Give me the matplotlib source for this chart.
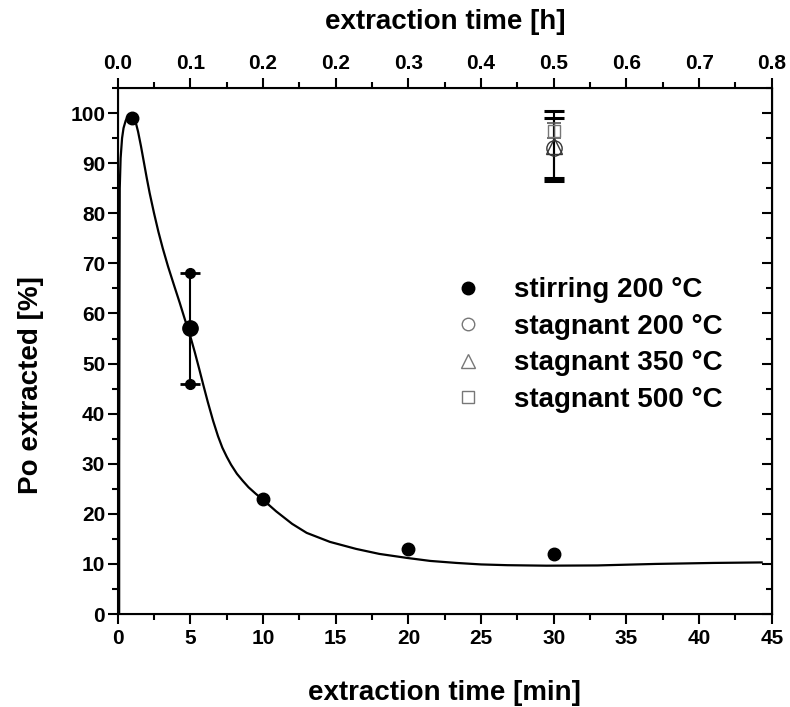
import matplotlib
matplotlib.use("Agg")
import matplotlib.pyplot as plt
from matplotlib.ticker import MultipleLocator

plt.rcParams['font.family'] = ['Liberation Sans', 'DejaVu Sans']
plt.rcParams['font.weight'] = 'bold'

# stirring 200 °C measurements
stir_t = [1, 10, 20, 30]
stir_po = [99, 23, 13, 12]
# the 5 min point carries an error bar
stir5_t = [5]
stir5_po = [57]
stir5_err = [11]

# stagnant measurements at 30 min
stag_t = [30]
stag200_po = [93]
stag200_err = [6]
stag350_po = [93.5]
stag350_err = [7]
stag500_po = [96.5]
stag500_err = [1.5]

# fitted curve
fit_t = [0.1, 0.1, 0.12, 0.14, 0.2, 0.3, 0.4, 0.55, 0.7, 0.85, 1.0, 1.2, 1.4,
         1.6, 1.8, 2.0, 2.2, 2.5, 2.8, 3.1, 3.46, 3.9, 4.27, 4.6, 4.96, 5.3,
         5.6, 5.9, 6.2, 6.56, 6.9, 7.2, 7.5, 7.8, 8.2, 8.6, 9.0, 9.5, 10.0,
         10.9, 12.0, 13.0, 14.6, 16.4, 18.0, 19.9, 21.5, 23.3, 25.0, 26.8,
         29.5, 33.0, 37.0, 41.0, 44.3]
fit_po = [0, 30, 62, 85, 91, 95, 97, 98.5, 99.3, 99.6, 99.6, 98.6, 96.3,
          93.4, 90.2, 87.0, 84.0, 80.0, 76.3, 73.0, 69.4, 65.4, 62.1, 59.0, 55.8, 52.3,
          49.0, 45.6, 42.3, 38.6, 35.5, 33.2, 31.4, 29.8, 28.0, 26.6, 25.3, 24.0, 22.8,
          20.5, 18.0, 16.2, 14.4, 13.0, 12.0, 11.2, 10.6, 10.2, 9.9, 9.75,
          9.65, 9.7, 10.0, 10.2, 10.3]

bottom_ticks = [0, 5, 10, 15, 20, 25, 30, 35, 40, 45]

fig = plt.figure(figsize=(7.9, 7.07), dpi=100)
ax = fig.add_axes([0.149, 0.1315, 0.828, 0.744])

ax.plot(fit_t, fit_po, color='black', lw=1.6, zorder=2)

ax.plot(stir_t, stir_po, 'o', color='black', ms=9, zorder=3)
ax.errorbar(stir5_t, stir5_po, yerr=stir5_err, fmt='o', color='black', ms=11,
            capsize=7, capthick=2, elinewidth=1.5, zorder=3)
err_ends = [p + s * e for p, e in zip(stir5_po, stir5_err) for s in (-1, 1)]
ax.plot(stir5_t * 2, err_ends, 'o', color='black', ms=7, zorder=3)

ax.errorbar(stag_t, stag350_po, yerr=stag350_err, fmt='^', mfc='none', mec='#333333',
            ms=11, color='black', capsize=7, capthick=2.2, elinewidth=1.5, zorder=3)
ax.errorbar(stag_t, stag200_po, yerr=stag200_err, fmt='o', mfc='none', mec='#333333',
            ms=11, color='black', capsize=7, capthick=2.2, elinewidth=1.5, zorder=3)
ax.errorbar(stag_t, stag500_po, yerr=stag500_err, fmt='s', mfc='none', mec='#777777',
            ms=8, color='#555555', capsize=5, capthick=1.2, elinewidth=1.0, zorder=3)

# legend handles
h1, = ax.plot([], [], 'o', color='black', ms=9)
h2, = ax.plot([], [], 'o', mfc='none', mec='#777777', ms=9)
h3, = ax.plot([], [], '^', mfc='none', mec='#777777', ms=10)
h4, = ax.plot([], [], 's', mfc='none', mec='#777777', ms=8)
ax.legend([h1, h2, h3, h4],
          ['stirring 200 °C', 'stagnant 200 °C', 'stagnant 350 °C', 'stagnant 500 °C'],
          loc='upper left', bbox_to_anchor=(0.514, 0.64), frameon=False,
          prop={'weight': 'bold', 'size': 20}, borderpad=0, borderaxespad=0,
          handletextpad=1.15, labelspacing=0.38, handlelength=1.0)

ax.set_xlim(0, 45)
ax.set_xticks(bottom_ticks)
ax.xaxis.set_minor_locator(MultipleLocator(2.5))
ax.set_yticks(range(0, 101, 10))
ax.yaxis.set_minor_locator(MultipleLocator(5))
ax.set_ylim(0, 105)

for s in ax.spines.values():
    s.set_linewidth(1.5)

ax.tick_params(which='both', direction='out', labelsize=15, width=1.5)
ax.tick_params(which='major', length=7)
ax.tick_params(which='minor', length=4)
ax.tick_params(axis='y', pad=2)

axr = ax.secondary_yaxis('right')
axr.set_yticks(range(0, 101, 10))
axr.yaxis.set_minor_locator(MultipleLocator(5))
axr.tick_params(which='both', direction='in', labelright=False, width=1.5)
axr.tick_params(which='major', length=7)
axr.tick_params(which='minor', length=4)

axt = ax.twiny()
axt.set_xlim(ax.get_xlim())
axt.set_xticks(bottom_ticks)
axt.set_xticklabels([f"{t / 60:.1f}" for t in bottom_ticks])
axt.xaxis.set_minor_locator(MultipleLocator(2.5))
axt.tick_params(which='both', direction='out', labelsize=15, width=1.5)
axt.tick_params(which='major', length=7)
axt.tick_params(which='minor', length=4)
axt.set_xlabel('extraction time [h]', fontsize=20, fontweight='bold')
axt.xaxis.set_label_coords(0.5, 1.113)

ax.set_xlabel('extraction time [min]', fontsize=20, fontweight='bold')
ax.xaxis.set_label_coords(0.5, -0.126)
ax.set_ylabel('Po extracted [%]', fontsize=20, fontweight='bold')
ax.yaxis.set_label_coords(-0.113, 0.435)

fig.savefig('out.png', dpi=100)
